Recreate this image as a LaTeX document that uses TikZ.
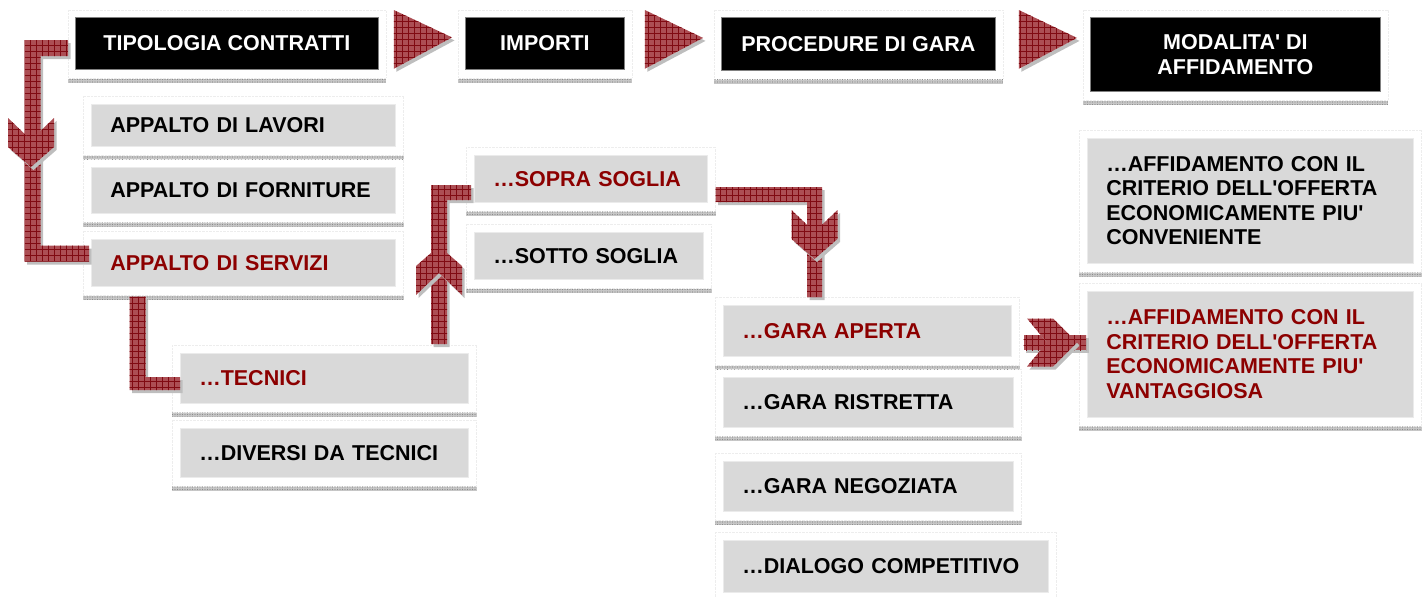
\documentclass[tikz,border=0pt]{standalone}
\usepackage{fontspec}
\setmainfont{Liberation Sans}
\usetikzlibrary{patterns,patterns.meta,calc}
\definecolor{boxgray}{RGB}{217,217,217}
\definecolor{txtred}{RGB}{140,0,0}
\definecolor{arrred}{RGB}{172,78,84}
\definecolor{arrdark}{RGB}{128,10,18}
\definecolor{shadowgray}{RGB}{190,190,190}
\tikzset{
  gbox/.style={fill=boxgray, draw=white!92!black, line width=0.5pt, anchor=north west,
    inner xsep=19pt, inner ysep=0pt, align=left},
  hbox/.style={fill=black, draw=gray, line width=0.8pt, text=white, anchor=north west,
    align=center, inner sep=0pt},
  frame/.style={draw=black!7, densely dotted, line width=0.4pt},
  stripe/.style={fill=black!22, postaction={pattern={Dots[distance=2.5pt,radius=0.55pt]}, pattern color=black!45}},
  arrfill/.style={preaction={fill=shadowgray, transform canvas={shift={(2.5pt,-3pt)}}},
    fill=arrred, postaction={pattern={Hatch[angle=0,distance=6pt,line width=0.45pt]}, pattern color=arrdark}},
}
\newcommand\gb[7]{%
  \pgfmathsetmacro\tw{#4-38}%
  \node[gbox, text=#6, minimum width=#4pt, minimum height=#5pt, text width=\tw pt] (#1) at (#2,#3) {#7};
  \draw[frame] ($(#1.north west)+(-8,-8)$) rectangle ($(#1.south east)+(8,9)$);
  \fill[stripe] ($(#1.south west)+(-8,9)$) rectangle ($(#1.south east)+(8,13)$);}
\newcommand\hb[6]{%
  \node[hbox, minimum width=#4pt, minimum height=#5pt] (#1) at (#2,#3) {#6};
  \draw[frame] ($(#1.north west)+(-7,-7)$) rectangle ($(#1.south east)+(7,8)$);
  \fill[stripe] ($(#1.south west)+(-7,9)$) rectangle ($(#1.south east)+(7,13)$);}
\begin{document}
\begin{tikzpicture}[x=1pt,y=-1pt,font=\fontsize{21.5}{24.5}\selectfont\bfseries]
\useasboundingbox (0,0) rectangle (1424,597);

% headers
\hb{tip}{75}{17}{303}{52}{TIPOLOGIA CONTRATTI}
\hb{imp}{465}{17}{159}{52}{IMPORTI}
\hb{proc}{721}{17}{274}{53}{PROCEDURE DI GARA}
\hb{mod}{1090}{17}{290}{74}{MODALITA\textquotesingle{} DI\\AFFIDAMENTO}

% boxes
\gb{lav}{91}{104}{304}{42}{black}{APPALTO DI LAVORI}
\gb{forn}{91}{167}{304}{46}{black}{APPALTO DI FORNITURE}
\gb{serv}{91}{239}{304}{47}{txtred}{APPALTO DI SERVIZI}
\gb{tec}{180}{353}{288}{50}{txtred}{…TECNICI}
\gb{div}{180}{428}{288}{49}{black}{…DIVERSI DA TECNICI}
\gb{sopra}{474}{155}{233}{47}{txtred}{…SOPRA SOGLIA}
\gb{sotto}{474}{232}{229}{47}{black}{…SOTTO SOGLIA}
\gb{aperta}{723}{305}{288}{51}{txtred}{…GARA APERTA}
\gb{ristr}{723}{377}{290}{50}{black}{…GARA RISTRETTA}
\gb{neg}{723}{461}{290}{50}{black}{…GARA NEGOZIATA}
\gb{dial}{723}{540}{325}{52}{black}{…DIALOGO COMPETITIVO}
\gb{conv}{1087}{138}{326}{125}{black}{…AFFIDAMENTO CON IL CRITERIO DELL\textquotesingle{}OFFERTA ECONOMICAMENTE PIU\textquotesingle{} CONVENIENTE}
\gb{vant}{1087}{291}{326}{126}{txtred}{…AFFIDAMENTO CON IL CRITERIO DELL\textquotesingle{}OFFERTA ECONOMICAMENTE PIU\textquotesingle{} VANTAGGIOSA}

% header triangles
\path[arrfill] ($(tip.north east)+(15,-7)$) -- ($(imp.west)+(-13,-6)$) -- ($(tip.south east)+(15,-1)$) -- cycle;
\path[arrfill] ($(imp.north east)+(20,-7)$) -- ($(proc.west)+(-18,-6)$) -- ($(imp.south east)+(20,-1)$) -- cycle;
\path[arrfill] ($(proc.north east)+(23,-7)$) -- ($(proc.east -| mod.west)+(-13,-6)$) -- ($(proc.south east)+(23,-2)$) -- cycle;

% corner coordinates
\coordinate (k1) at (32.5,48);
\coordinate (k2) at (32.5,253.5);
\coordinate (k3) at (137.5,383.5);
\coordinate (k4) at (439,192.5);
\coordinate (k5) at (814.5,194.5);
\coordinate (n1) at (31,140);
\coordinate (n3) at (439,273);
\coordinate (n4) at (814.5,232);
\coordinate (n5) at (1047,342.5);

% arrow 1: tipologia -> servizi
\path[arrfill] ($(k1 -| tip.west)+(-7,-8)$) -- ($(k1)+(-8,-8)$) -- ($(k2)+(-8,8)$)
  -- ($(k2 -| serv.west)+(-2,8)$) -- ($(k2 -| serv.west)+(-2,-8)$) -- ($(k2)+(8,-8)$)
  -- ($(k1)+(8,8)$) -- ($(k1 -| tip.west)+(-7,8)$) -- cycle;
\begin{scope}[shift={(n1)}]
  \path[arrfill] (-23,-22) -- (0,0) -- (23,-22) -- (23,7) -- (0,27) -- (-23,7) -- cycle;
\end{scope}

% arrow 2: servizi -> tecnici
\path[arrfill] ($(k3 |- serv.south)+(-8,10)$) -- ($(k3)+(-8,6.5)$) -- ($(k3 -| tec.west)+(0,6.5)$)
  -- ($(k3 -| tec.west)+(0,-6.5)$) -- ($(k3)+(8,-6.5)$) -- ($(k3 |- serv.south)+(8,10)$) -- cycle;

% arrow 3: tecnici -> sopra soglia
\path[arrfill] ($(k4 |- tec.north)+(-8,-9)$) -- ($(k4)+(-8,-7.5)$) -- ($(k4 -| sopra.west)+(-3,-7.5)$)
  -- ($(k4 -| sopra.west)+(-3,7.5)$) -- ($(k4)+(8,7.5)$) -- ($(k4 |- tec.north)+(8,-9)$) -- cycle;
\begin{scope}[shift={(n3)}]
  \path[arrfill] (-23,22) -- (0,0) -- (23,22) -- (23,-7) -- (0,-27) -- (-23,-7) -- cycle;
\end{scope}

% arrow 4: sopra soglia -> gara aperta
\path[arrfill] ($(k5 -| sopra.east)+(8,-7.5)$) -- ($(k5)+(7.5,-7.5)$) -- ($(k5 |- aperta.north)+(7.5,-8)$)
  -- ($(k5 |- aperta.north)+(-7.5,-8)$) -- ($(k5)+(-7.5,7.5)$) -- ($(k5 -| sopra.east)+(8,7.5)$) -- cycle;
\begin{scope}[shift={(n4)}]
  \path[arrfill] (-23,-22) -- (0,0) -- (23,-22) -- (23,7) -- (0,27) -- (-23,7) -- cycle;
\end{scope}

% arrow 5: gara aperta -> vantaggiosa
\path[arrfill] ($(n5 -| aperta.east)+(12,-7.5)$) rectangle ($(n5 -| vant.west)+(-1,7.5)$);
\begin{scope}[shift={(n5)}]
  \path[arrfill] (-20,-24) -- (6,-24) -- (30,0) -- (6,24) -- (-20,24) -- (0,0) -- cycle;
\end{scope}
\end{tikzpicture}
\end{document}
